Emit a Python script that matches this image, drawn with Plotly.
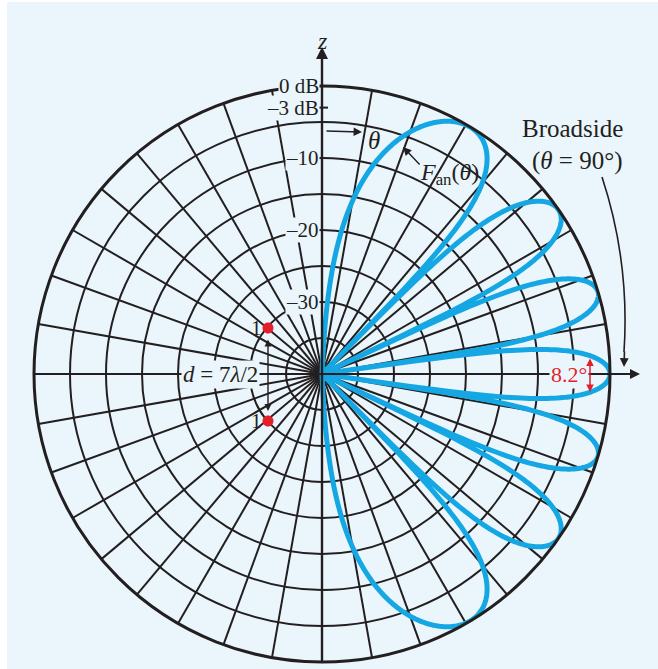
import numpy as np
import plotly.graph_objects as go

# ---- data -------------------------------------------------------------
spacing_wavelengths = 3.5            # d = 7λ/2
db_floor, db_top = -40, 0            # radial scale of the chart (dB)
ring_levels = [-35, -30, -25, -20, -15, -10, -5]
ring_labels = {0: "0 dB", -3: "\u20133 dB", -10: "\u201310", -20: "\u201320", -30: "\u201330"}
null_halfwidth_label = "8.2\u00b0"
theta_deg = np.arange(0.0, 180.01, 0.1)

# normalized array factor of two equal in-phase elements
af = np.cos(np.pi * spacing_wavelengths * np.cos(np.radians(theta_deg))) ** 2
pattern_db = np.clip(10 * np.log10(np.maximum(af, 1e-12)), db_floor, db_top)

# ---- geometry helpers (pixels -> paper) -------------------------------
W, H = 658, 669
cx, cy, R = 322, 374, 288
BG = "#eaf6fc"
INK = "#231f20"
RED = "#e41f2a"
BLUE = "#14a7e3"
SERIF = "Liberation Serif"


def px(x):
    return x / W


def py(y):
    return 1 - y / H


def ring_y(db):
    return cy - R * (db - db_floor) / (db_top - db_floor)


fig = go.Figure()
fig.add_trace(go.Scatterpolar(
    theta=theta_deg, r=pattern_db, mode="lines",
    line=dict(color=BLUE, width=5), hoverinfo="skip", showlegend=False,
))

fig.update_layout(
    width=W, height=H, margin=dict(l=0, r=0, t=0, b=0),
    paper_bgcolor="white", plot_bgcolor=BG, showlegend=False,
    polar=dict(
        domain=dict(x=[px(cx - R), px(cx + R)], y=[py(cy + R), py(cy - R)]),
        bgcolor="rgba(0,0,0,0)",
        angularaxis=dict(
            rotation=90, direction="clockwise", dtick=10,
            showgrid=True, gridcolor=INK, gridwidth=1.5,
            showline=True, linecolor=INK, linewidth=3,
            ticks="", showticklabels=False,
        ),
        radialaxis=dict(
            range=[db_floor, db_top], tickvals=ring_levels,
            showgrid=True, gridcolor=INK, gridwidth=1.5,
            showline=False, ticks="", showticklabels=False,
        ),
    ),
)


def dot(x, y, rad=5.5):
    # smooth filled circle built as a path, centred on pixel (x, y)
    k = 0.5523 * rad
    p = (f"M {px(x - rad)},{py(y)} "
         f"C {px(x - rad)},{py(y - k)} {px(x - k)},{py(y - rad)} {px(x)},{py(y - rad)} "
         f"C {px(x + k)},{py(y - rad)} {px(x + rad)},{py(y - k)} {px(x + rad)},{py(y)} "
         f"C {px(x + rad)},{py(y + k)} {px(x + k)},{py(y + rad)} {px(x)},{py(y + rad)} "
         f"C {px(x - k)},{py(y + rad)} {px(x - rad)},{py(y + k)} {px(x - rad)},{py(y)} Z")
    return dict(type="path", xref="paper", yref="paper", path=p,
                fillcolor=RED, line=dict(width=0))


shapes = [
    # light panel
    dict(type="rect", xref="paper", yref="paper", x0=px(7), x1=1, y0=0, y1=py(2),
         fillcolor=BG, line=dict(width=0), layer="below"),
    # -3 dB tick on the z axis
    dict(type="line", xref="paper", yref="paper",
         x0=px(cx - 5), x1=px(cx + 6), y0=py(ring_y(-3)), y1=py(ring_y(-3)),
         line=dict(color=INK, width=2)),
    # curved pointer toward broadside
    dict(type="path", xref="paper", yref="paper",
         path=f"M {px(602)},{py(177)} Q {px(630)},{py(262)} {px(624)},{py(352)}",
         line=dict(color=INK, width=1.6)),
    # array elements
    dot(268, 328),
    dot(268, 421),
]

ann = []


def arrow(x_tip, y_tip, x_tail, y_tail, color=INK, width=2, head=2, size=1.0, both=False):
    a = dict(xref="paper", yref="paper", x=px(x_tip), y=py(y_tip),
             ax=x_tail - x_tip, ay=y_tail - y_tip, axref="pixel", ayref="pixel",
             text="", showarrow=True, arrowcolor=color, arrowwidth=width,
             arrowhead=head, arrowsize=size, standoff=0, startstandoff=0)
    if both:
        a.update(arrowside="end+start", startarrowhead=head, startarrowsize=size)
    return a


def label(text, x, y, size=21, color=INK, xanchor="center", bg=None, pad=1):
    a = dict(xref="paper", yref="paper", x=px(x), y=py(y), text=text, showarrow=False,
             xanchor=xanchor, yanchor="middle",
             font=dict(family=SERIF, size=size, color=color))
    if bg:
        a.update(bgcolor=bg, borderpad=pad)
    return a


# axes
ann.append(arrow(cx, 47, cx, cy + R, width=2.4, size=1.0))
ann.append(arrow(640, cy, cx - R, cy, width=2.0, size=1.0))
ann.append(label("<i>z</i>", cx, 41, size=24))

# ring labels along the z axis
for db, txt in ring_labels.items():
    ann.append(label(txt, cx - 2, ring_y(db), size=21, xanchor="right", bg=BG, pad=0))

# theta arrow and label
ann.append(arrow(362, 132, 325, 131, width=1.4, size=1.2))
ann.append(label("<i>θ</i>", 374, 141, size=25))

# pattern label with pointer
ann.append(arrow(403, 147, 421, 166, width=1.4, size=1.2))
ann.append(label("<i>F</i><sub>an</sub>(<i>θ</i>)", 450, 174, size=24))

# broadside note
ann.append(label("Broadside", 572, 128, size=25))
ann.append(label("(<i>θ</i> = 90°)", 577, 161, size=25))
ann.append(arrow(624, 367, 624.5, 350, width=1.6, size=1.1))

# null half-width marker
ann.append(label(null_halfwidth_label, 569, 375, size=22, color=RED, bg=BG))
ann.append(arrow(590, 392, 590, 357, color=RED, width=1.5, size=1.0, both=True))

# element spacing
ann.append(label("1", 256, 328, size=21))
ann.append(label("1", 256, 421, size=21))
ann.append(arrow(268, 411, 268, 338, width=1.4, size=1.0, both=True))
ann.append(label("<i>d</i> = 7<i>λ</i>/2", 220, 375, size=23, bg=BG))

fig.update_layout(shapes=shapes, annotations=ann)
fig.write_html("out.html")
